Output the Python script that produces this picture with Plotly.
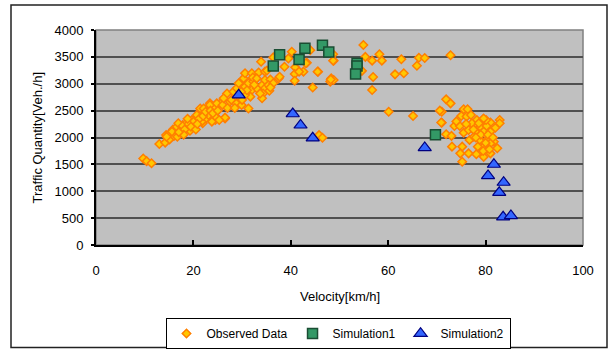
import plotly.graph_objects as go

# ---------------- data ----------------
obs_velocity = [
    9.7, 10.4, 11.4, 13.0, 14.2, 15.1, 14.4, 15.2, 16.0, 16.7, 15.8, 16.6, 17.6, 17.8, 18.6,
    19.3, 20.0, 20.3, 21.0, 21.5, 21.9, 22.6, 22.8, 23.1, 16.9, 14.5, 15.6, 17.8, 19.7, 21.4,
    21.7, 23.4, 24.5, 25.5, 26.9, 28.2, 24.5, 26.5, 26.5, 24.5, 23.1, 20.7, 20.0, 23.8, 25.3,
    22.1, 23.4, 24.8, 26.0, 27.5, 28.8, 29.9, 31.3, 26.2, 28.9, 30.6, 32.0, 29.3, 30.3, 30.6,
    32.0, 33.4, 33.9, 31.3, 32.3, 33.0, 34.1, 34.7, 34.3, 34.1, 31.7, 30.6, 29.6, 32.2, 34.7,
    34.7, 35.8, 37.5, 35.4, 36.4, 33.7, 35.6, 36.4, 38.7, 40.2, 39.5, 40.9, 40.8, 40.8, 42.6,
    43.3, 44.0, 45.6, 44.5, 48.8, 48.3, 48.1, 48.8, 37.7, 35.1, 35.8,
    18.2, 19.0, 18.0, 17.0, 19.5, 20.5, 21.2, 22.0, 22.5, 20.8, 18.8, 23.5, 24.0, 25.0, 27.0,
    27.8, 28.5, 30.0, 31.0, 32.5, 33.0, 29.8,
    54.9, 55.3, 58.2, 56.7, 58.7, 62.7, 66.3, 67.5, 72.8, 65.9, 61.4, 63.2, 56.9, 48.7, 48.7,
    54.6, 56.7, 60.1, 65.1, 45.5, 43.1, 41.7, 45.8, 46.5, 48.2,
    71.9, 72.8, 71.0, 71.0, 75.5, 76.3, 75.0, 76.1, 77.0, 73.6, 74.7, 71.9, 73.0, 75.5, 76.5,
    77.6, 78.2, 79.5, 81.0, 82.9, 82.9, 78.9, 80.2, 77.9, 79.6, 81.0, 76.7, 77.6, 78.8, 80.3,
    81.7, 73.1, 75.2, 81.0, 82.4, 74.8, 76.5, 78.1, 79.6, 81.0, 75.2, 79.6, 78.4, 77.2, 78.6,
    70.6, 70.9, 80.1, 79.6,
    77.5, 79.0, 80.5, 78.0, 80.0, 81.5, 82.0, 76.0, 74.0, 79.5, 80.8,
]
obs_quantity = [
    1610, 1560, 1520, 1880, 1905, 1965, 2045, 2080, 2030, 2015, 2150, 2200, 2125, 2230, 2275,
    2125, 2200, 2325, 2420, 2510, 2265, 2355, 2540, 2450, 2265, 2015, 2110, 2215, 2325, 2540,
    2295, 2635, 2555, 2635, 2820, 2850, 2325, 2355, 2370, 2390, 2420, 2420, 2295, 2295, 2325,
    2540, 2605, 2635, 2605, 2665, 2635, 2605, 2540, 2730, 2915, 2945, 2885, 3010, 3100, 3195,
    3195, 3210, 3410, 3010, 3040, 2915, 2975, 2915, 2820, 2730, 2760, 2790, 2740, 3115, 3225,
    3070, 3080, 3100, 2975, 3010, 2820, 2870, 3490, 3315, 3595, 3470, 3305, 3180, 3055, 3225,
    3390, 3625, 3225, 2930, 3430, 3100, 3040, 3070, 3130, 3245, 2930,
    2150, 2250, 2050, 2100, 2200, 2150, 2350, 2400, 2480, 2250, 2350, 2500, 2450, 2500, 2550,
    2700, 2550, 2700, 2880, 2980, 3100, 2850,
    3720, 3500, 3550, 3430, 3430, 3455, 3485, 3480, 3530, 3335, 3175, 3195, 3125, 3550, 3430,
    3240, 2885, 2480, 2400, 3225, 3380, 3225, 2045, 1995, 3080,
    2710, 2635, 2480, 2275, 2525, 2525, 2400, 2390, 2420, 2215, 2215, 2060, 2030, 2090, 2140,
    2215, 2325, 2340, 2280, 2325, 2265, 2200, 2215, 2110, 2110, 2110, 1955, 2015, 1955, 1965,
    1920, 1830, 1830, 1890, 1800, 1705, 1705, 1690, 1640, 1705, 1550, 1830, 1830, 2265, 2265,
    2500, 2280, 2325, 2355,
    2150, 2050, 2050, 2000, 1900, 2000, 2180, 2250, 2300, 1750, 1780,
]

sim1_velocity = [36.4, 37.7, 41.7, 42.9, 46.5, 47.8, 53.6, 53.6, 53.3, 69.7]
sim1_quantity = [3330, 3540, 3450, 3660, 3715, 3590, 3380, 3330, 3180, 2050]

sim2_velocity = [29.3, 40.4, 42.0, 44.5, 67.5, 81.7, 80.5, 83.7, 82.8, 83.6, 85.2]
sim2_quantity = [2790, 2440, 2230, 1990, 1810, 1500, 1290, 1165, 975, 520, 545]

x_ticks = [0, 20, 40, 60, 80, 100]
y_ticks = [0, 500, 1000, 1500, 2000, 2500, 3000, 3500, 4000]

series_names = ["Observed Data", "Simulation1", "Simulation2"]
x_title = "Velocity[km/h]"
y_title = "Traffic Quantity[Veh./h]"

# ---------------- figure ----------------
FONT = "Liberation Sans, Arial, sans-serif"

fig = go.Figure()
fig.add_trace(go.Scatter(
    x=obs_velocity, y=obs_quantity, mode="markers", name=series_names[0],
    marker=dict(symbol="diamond", size=6.5, color="#FFC800",
                line=dict(color="#FF7F00", width=1.5)),
))
fig.add_trace(go.Scatter(
    x=sim1_velocity, y=sim1_quantity, mode="markers", name=series_names[1],
    marker=dict(symbol="square", size=10, color="#339966",
                line=dict(color="#1A4D33", width=1.5)),
))
fig.add_trace(go.Scatter(
    x=sim2_velocity, y=sim2_quantity, mode="markers", name=series_names[2],
    marker=dict(symbol="triangle-up", size=11.5, color="#3366FF",
                line=dict(color="#000080", width=1.2)),
))

W, H = 608, 349
L, R, T, B = 96, 25, 30, 104
pw, ph = W - L - R, H - T - B


def px_x(p):
    return (p - L) / pw


def px_y(p):
    return (H - B - p) / ph


fig.update_layout(
    width=W, height=H,
    margin=dict(l=L, r=R, t=T, b=B, pad=0, autoexpand=False),
    paper_bgcolor="white",
    plot_bgcolor="#C0C0C0",
    font=dict(family=FONT, size=13, color="black"),
    showlegend=True,
    legend=dict(
        orientation="h", x=px_x(338), xanchor="center",
        yref="container", y=(H - 318) / H, yanchor="top",
        bgcolor="white", bordercolor="black", borderwidth=1,
        font=dict(family=FONT, size=12, color="black"),
        itemwidth=30, tracegroupgap=0,
    ),
    xaxis=dict(
        range=[0, 100], tickvals=x_ticks, ticktext=[str(v) for v in x_ticks],
        showgrid=False, zeroline=False, showline=True, linecolor="black", linewidth=2,
        ticks="inside", ticklen=5, tickwidth=1.5, tickcolor="black",
        ticklabelstandoff=12, tickfont=dict(size=13),
    ),
    yaxis=dict(
        range=[0, 4000], tickvals=y_ticks, ticktext=[str(v) for v in y_ticks],
        showgrid=True, gridcolor="#505050", gridwidth=1.5,
        zeroline=False, showline=True, linecolor="black", linewidth=2,
        ticks="outside", ticklen=3, tickwidth=1.5, tickcolor="black",
        ticklabelstandoff=5, tickfont=dict(size=13),
    ),
    shapes=[
        # plot-area frame (grey)
        dict(type="rect", xref="paper", yref="paper", x0=0, x1=1, y0=0, y1=1,
             line=dict(color="#808080", width=1.5), layer="below"),
        # outer chart border
        dict(type="rect", xref="paper", yref="paper",
             x0=px_x(11), x1=px_x(607), y0=px_y(347.5), y1=px_y(5),
             line=dict(color="#222222", width=1.5)),
    ],
    annotations=[
        dict(text=y_title, xref="paper", yref="paper", x=px_x(37), y=0.5,
             textangle=-90, showarrow=False, xanchor="center", yanchor="middle",
             font=dict(size=13)),
        dict(text=x_title, xref="paper", yref="paper", x=0.5, y=px_y(296),
             showarrow=False, xanchor="center", yanchor="middle",
             font=dict(size=13)),
    ],
)

fig.write_html(
    "out.html",
    config={"displayModeBar": False},
    post_script="document.body.style.margin='0';document.body.style.padding='0';",
)
